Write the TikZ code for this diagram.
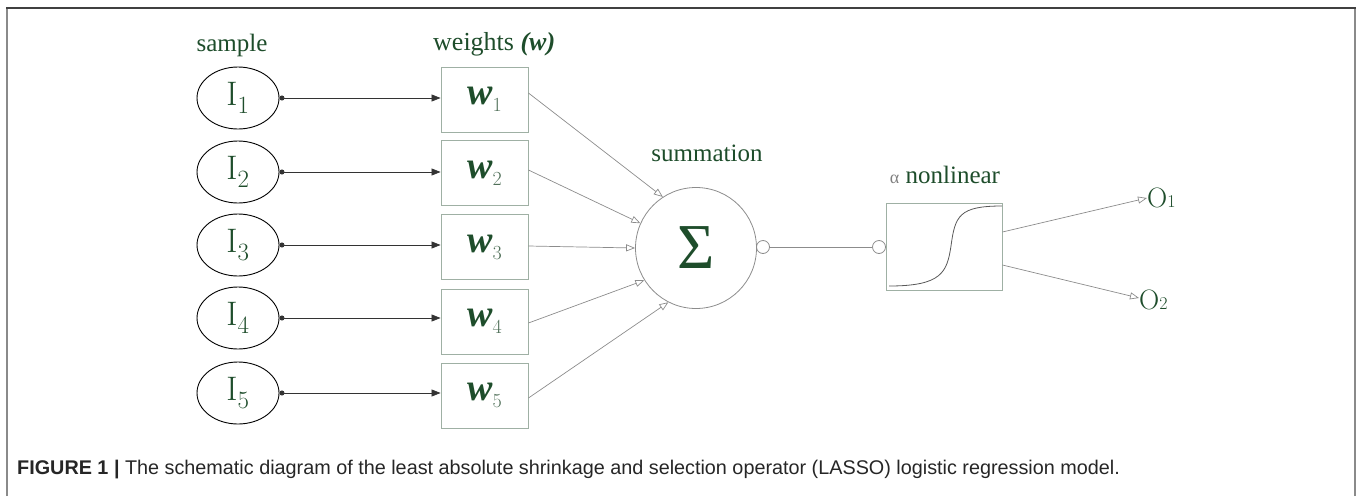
\documentclass[tikz,border=0pt]{standalone}
\usepackage{fontspec}
\usetikzlibrary{shapes.geometric,arrows.meta}
\newfontfamily\capfont{Liberation Sans}
\newfontfamily\labfont{Liberation Serif}
\definecolor{txtgreen}{HTML}{1E4D2B}
\definecolor{subgreen}{HTML}{4F6F58}
\definecolor{boxline}{HTML}{9FB0A4}
\definecolor{wireline}{HTML}{8C8C8C}
\definecolor{frameline}{HTML}{8A8A8A}
\newcommand{\wsym}{{\labfont\bfseries\itshape w}}
\tikzset{
  inputnode/.style={ellipse,draw=black,line width=0.9pt,minimum width=82pt,minimum height=62pt,inner sep=0pt,
    text=txtgreen,font=\fontsize{34}{40}\selectfont},
  weightbox/.style={rectangle,draw=boxline,line width=0.9pt,minimum width=87pt,minimum height=65pt,inner sep=0pt,
    text=txtgreen,font=\fontsize{38}{42}\selectfont},
  headlabel/.style={text=txtgreen,font=\labfont\fontsize{25}{30}\selectfont,inner sep=0pt},
  feedarrow/.style={line width=0.8pt,draw=black!80,{Circle[length=5pt]}-{Triangle[length=9pt,width=7pt]}},
  sumarrow/.style={line width=0.7pt,draw=wireline,-{Triangle[open,length=9pt,width=7pt]}},
  portcircle/.style={circle,draw=wireline,line width=0.8pt,minimum size=13pt,inner sep=0pt},
  outlabel/.style={text=txtgreen,inner sep=0pt,anchor=west,font=\fontsize{28}{32}\selectfont}
}
\begin{document}
\begin{tikzpicture}[x=1pt,y=-1pt]
\useasboundingbox (0,0) rectangle (1360,496);
% frame
\draw[frameline,line width=2pt] (7,496) -- (7,8);
\draw[frameline,line width=2pt] (1355,496) -- (1355,8);
\draw[black!75,line width=2pt] (6,8) -- (1356,8);

% headings
\node[headlabel] (hsample) at (232,45) {sample};
\node[headlabel,font=\labfont\fontsize{26}{30}\selectfont,anchor=base west] (hweights) at (433,50)
  {weights {\bfseries\itshape (w)}};
\node[headlabel] (hsum) at (707,153) {summation};
\node[headlabel] (hnl) at (945,175) {{\color{gray}\fontsize{18}{20}\selectfont α}\ nonlinear};

% inputs and weights
\foreach \k/\yi/\yw in {1/98/99.5, 2/172/173, 3/245/247, 4/318/321.5, 5/393/395.5}{
  \node[inputnode] (i\k) at (238,\yi) {$\mathrm{I}_{\k}$};
  \node[weightbox] (w\k) at (484.5,\yw)
    {\wsym\raisebox{-7pt}{\textcolor{subgreen}{\fontsize{20}{22}\selectfont\k}}};
  \draw[feedarrow] (i\k.east) -- (i\k.east -| w\k.west);
}

% summation unit
\node[circle,draw=wireline,line width=0.8pt,minimum size=121pt,inner sep=0pt,
      text=txtgreen,font=\labfont\fontsize{64}{70}\selectfont] (sum) at (696,248) {Σ};
\draw[sumarrow] ([yshift=6.5pt]w1.east) -- (sum.123);
\draw[sumarrow] ([yshift=3pt]w2.east) -- (sum.156);
\draw[sumarrow] ([yshift=1pt]w3.east) -- (sum.180);
\draw[sumarrow] ([yshift=-1.5pt]w4.east) -- (sum.212);
\draw[sumarrow] ([yshift=-2.5pt]w5.east) -- (sum.243);

% link to the nonlinear unit
\node[portcircle] (pout) at (763,247) {};
\node[portcircle] (pin) at (879,247) {};
\draw[wireline,line width=0.8pt] (pout.east) -- (pin.west);
\node[rectangle,draw=boxline,line width=0.9pt,minimum width=116pt,minimum height=87pt,inner sep=0pt] (nl) at (944,246.5) {};
% sigmoid curve
\draw[black!65,line width=0.8pt] (889,286) .. controls (942,286) and (947,272) .. (951,246)
      .. controls (955,216) and (959,206) .. (1002,206);

% outputs
\node[outlabel] (o1) at (1147,198) {O{\fontsize{18}{20}\selectfont 1}};
\node[outlabel] (o2) at (1139,300) {O{\fontsize{18}{20}\selectfont 2}};
\draw[sumarrow] ([yshift=14.5pt]nl.east) -- (o1.west);
\draw[sumarrow] ([yshift=-18.5pt]nl.east) -- ([yshift=2pt]o2.west);

% caption
\node[anchor=west,inner sep=0pt,font=\capfont\fontsize{19.8}{23}\selectfont,text=black!85] (cap) at (17,470)
  {\textbf{FIGURE 1 |} The schematic diagram of the least absolute shrinkage and selection operator (LASSO) logistic regression model.};
\end{tikzpicture}
\end{document}
